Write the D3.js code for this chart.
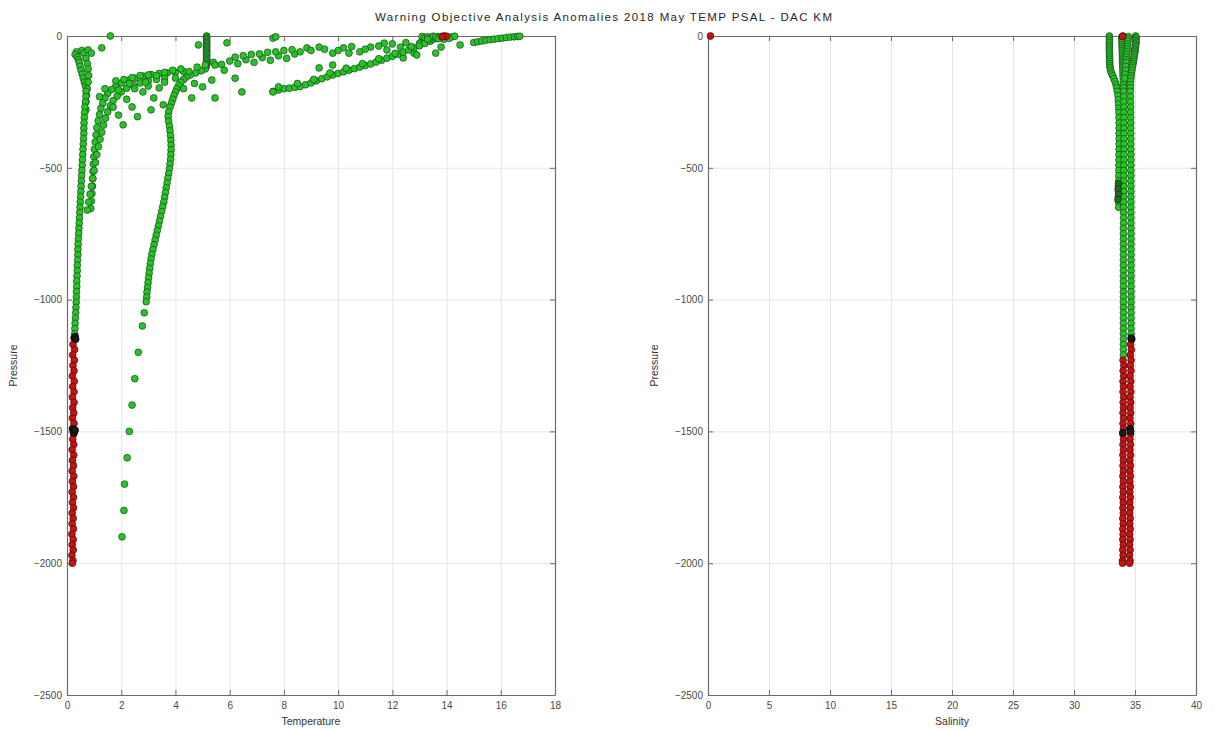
<!DOCTYPE html>
<html><head><meta charset="utf-8">
<script src="https://cdn.jsdelivr.net/npm/d3@7"></script>
<style>body{margin:0;background:#fff}svg{display:block}text{font-family:"Liberation Sans",Arial,sans-serif}</style>
</head><body><svg id="c" width="1215" height="731"></svg>
<script>
// ---------- tick labels / ranges ----------
const titleText = "Warning Objective Analysis Anomalies 2018 May TEMP PSAL - DAC KM";
const presTicks = [-2500,-2000,-1500,-1000,-500,0];
const tempTicks = [0,2,4,6,8,10,12,14,16,18];
const psalTicks = [0,5,10,15,20,25,30,35,40];

// ---------- shared pressure grids ----------
const presMid = [-210,-230,-250,-270,-290,-310,-330,-350,-370,-390,-410,-430,-450,-470,-490,-510,-530,-550,-570,-590,-610,-630,-650,-670,-690,-710,-730,-750,-770,-790,-810,-830,-850,-870,-890,-910,-930,-950,-970,-990,-1010,-1030,-1050,-1070,-1090,-1110,-1130];
const presBadA = [-1150,-1170,-1190,-1210,-1230,-1250,-1270,-1290,-1310,-1330,-1350,-1370,-1390,-1410,-1430,-1450,-1470,-1490,-1510,-1530,-1550,-1570,-1590,-1610,-1630,-1650,-1670,-1690,-1710,-1730,-1750,-1770,-1790,-1810,-1830,-1850,-1870,-1890,-1910,-1930,-1950,-1970,-1990,-2000];
const presBadB = [-1230,-1250,-1270,-1290,-1310,-1330,-1350,-1370,-1390,-1410,-1430,-1450,-1470,-1490,-1510,-1530,-1550,-1570,-1590,-1610,-1630,-1650,-1670,-1690,-1710,-1730,-1750,-1770,-1790,-1810,-1830,-1850,-1870,-1890,-1910,-1930,-1950,-1970,-1990,-2000];

// ---------- temperature values ----------
const tempColdTop = [[0.35,-60],[0.30,-70],[0.38,-80],[0.42,-90],[0.45,-100],[0.48,-115],[0.52,-130],[0.56,-145],[0.60,-160],[0.64,-175],[0.68,-190],[0.55,-55],[0.62,-65],[0.70,-85],[0.75,-105],[0.78,-125],[0.80,-150],[0.78,-175],[0.75,-200],[0.72,-225],[0.70,-250],[0.70,-280]];
const tempColdMid = [0.70,0.70,0.68,0.66,0.65,0.64,0.63,0.62,0.62,0.61,0.60,0.59,0.58,0.57,0.56,0.55,0.54,0.53,0.52,0.51,0.50,0.49,0.48,0.47,0.46,0.45,0.44,0.43,0.42,0.41,0.40,0.40,0.39,0.38,0.38,0.37,0.36,0.36,0.35,0.35,0.34,0.33,0.32,0.31,0.30,0.29,0.28];
const tempColdBad = [0.30,0.22,0.28,0.21,0.27,0.22,0.26,0.20,0.27,0.21,0.26,0.20,0.26,0.21,0.25,0.20,0.26,0.20,0.25,0.21,0.25,0.19,0.25,0.20,0.24,0.19,0.25,0.20,0.24,0.19,0.24,0.20,0.24,0.19,0.23,0.19,0.24,0.18,0.23,0.19,0.23,0.18,0.22,0.20];
const tempCurveA = [[4.3,-135],[4.0,-138],[3.7,-140],[3.4,-142],[3.1,-146],[2.8,-152],[2.5,-160],[2.25,-168],[2.0,-178],[1.8,-190],[1.65,-203],[1.5,-218],[1.4,-235],[1.32,-255],[1.25,-275],[1.2,-298],[1.15,-322],[1.1,-348],[1.07,-375],[1.04,-402],[1.01,-430],[0.99,-458],[0.97,-486],[0.96,-514],[0.95,-542],[0.94,-570],[0.92,-598],[0.9,-626],[0.88,-654]];
const tempCurveB = [[3.6,-160],[3.3,-165],[3.0,-170],[2.7,-178],[2.45,-188],[2.2,-198],[2.0,-212],[1.85,-228],[1.7,-245],[1.6,-265],[1.5,-288],[1.42,-312],[1.35,-338],[1.28,-365],[1.22,-392],[1.16,-420],[1.1,-450],[1.05,-480],[1.0,-510],[0.95,-540],[0.9,-570],[0.85,-600],[0.8,-630],[0.75,-660]];
const tempWarmDeep = [[5.15,0],[5.15,-5],[5.15,-10],[5.15,-15],[5.15,-20],[5.15,-25],[5.15,-30],[5.15,-35],[5.15,-40],[5.15,-45],[5.15,-50],[5.15,-55],[5.15,-60],[5.15,-65],[5.15,-70],[5.15,-75],[5.15,-80],[5.15,-85],[5.15,-90],[5.15,-95],[5.15,-100],[5.15,-105],[5.14,-110],[5.13,-115],[5.12,-120],[5.1,-125],[4.95,-132],[4.75,-140],[4.55,-148],[4.4,-156],[4.3,-165],[4.2,-175],[4.12,-188],[4.05,-200],[4.0,-212],[3.95,-225],[3.9,-240],[3.85,-255],[3.8,-270],[3.75,-288],[3.73,-306],[3.75,-324],[3.78,-342],[3.8,-360],[3.82,-378],[3.83,-396],[3.84,-414],[3.84,-432],[3.83,-450],[3.82,-468],[3.8,-486],[3.78,-504],[3.75,-522],[3.72,-540],[3.69,-558],[3.66,-576],[3.63,-594],[3.6,-612],[3.57,-630],[3.53,-648],[3.49,-666],[3.45,-684],[3.41,-702],[3.37,-720],[3.33,-738],[3.29,-756],[3.25,-774],[3.21,-792],[3.17,-810],[3.13,-828],[3.1,-846],[3.07,-864],[3.05,-882],[3.03,-900],[3.01,-918],[2.99,-936],[2.97,-954],[2.95,-972],[2.94,-990],[2.92,-1008],[2.85,-1050],[2.78,-1100],[2.63,-1200],[2.5,-1300],[2.4,-1400],[2.3,-1500],[2.22,-1600],[2.12,-1700],[2.1,-1800],[2.03,-1900]];
const tempBandLower = [[7.6,-210],[7.8,-205],[8.0,-200],[8.2,-198],[8.4,-195],[8.6,-192],[8.8,-185],[9.0,-178],[9.2,-170],[9.4,-162],[9.6,-155],[9.8,-148],[10.0,-142],[10.2,-136],[10.4,-130],[10.6,-124],[10.8,-118],[11.0,-112],[11.2,-106],[11.4,-99],[11.6,-92],[11.8,-84],[12.0,-77],[12.2,-69],[12.4,-61],[12.6,-53],[12.8,-45],[13.0,-37],[13.2,-28],[13.4,-20],[13.5,-13],[13.6,-7],[13.7,-2],[8.5,-180],[9.1,-165],[9.7,-140],[10.3,-122],[10.9,-105],[11.5,-86],[12.1,-66],[12.7,-40]];
const tempBandUpper = [[1.8,-170],[2.1,-165],[2.4,-158],[2.7,-150],[3.0,-148],[3.3,-150],[3.6,-138],[3.9,-130],[4.2,-125],[4.5,-135],[4.8,-118],[5.1,-110],[5.4,-100],[5.7,-108],[6.0,-95],[6.3,-105],[6.6,-90],[6.9,-100],[7.2,-82],[7.5,-92],[7.8,-75],[8.1,-85],[8.4,-68],[8.85,-45],[9.3,-42],[9.3,-121],[9.8,-65],[9.8,-110],[10.2,-45],[10.4,-65],[10.8,-60],[11.2,-42],[11.7,-27],[11.8,-53],[12.3,-42],[12.4,-83],[12.8,-65],[12.9,-72],[13.1,-15],[13.6,-65],[13.8,-42],[14.5,-34],[6.2,-80],[6.5,-75],[6.8,-70],[7.1,-68],[7.4,-62],[7.7,-60],[8.0,-55],[8.3,-52],[8.6,-60],[9.0,-55],[9.5,-50],[10.0,-55],[10.5,-40],[11.0,-50],[11.5,-38],[12.0,-30],[12.5,-25],[13.0,-28],[13.3,-10]];
const tempScatter = [[1.6,0],[1.28,-45],[0.78,-53],[0.9,-65],[4.85,-34],[5.9,-26],[7.6,-8],[7.7,-3],[5.46,-110],[5.34,-167],[5.46,-235],[5.0,-193],[4.6,-235],[6.45,-212],[7.6,-212],[7.8,-193],[2.6,-306],[3.1,-280],[2.07,-337],[2.4,-269],[2.8,-212],[3.2,-235],[3.4,-197],[3.55,-261],[1.9,-300],[2.2,-240],[2.5,-200],[1.7,-270],[3.0,-190],[6.2,-160],[5.8,-130],[4.3,-200],[4.7,-180],[2.3,-180],[2.9,-175],[3.6,-175],[4.0,-160],[1.9,-205],[1.4,-200],[1.2,-230]];
const tempSurfWarm = [[15.0,-25],[15.15,-22],[15.3,-19],[15.45,-16],[15.6,-14],[15.75,-12],[15.9,-10],[16.05,-8],[16.2,-6],[16.35,-4],[16.5,-3],[16.62,-2],[16.7,-1]];
const tempSurfCluster = [[13.1,-2],[13.2,-6],[13.3,-3],[13.4,-8],[13.5,-1],[13.6,-4],[13.7,-10],[13.8,-2],[14.0,-6],[14.2,-3],[14.3,-1],[13.9,-12],[13.3,-12],[14.1,-9]];
const tempSurfBad = [[13.9,0],[14.0,-1],[13.85,-3]];
const tempDark = [[0.3,-1140],[0.26,-1145],[0.32,-1150],[0.22,-1490],[0.28,-1500],[0.24,-1505],[0.3,-1495]];

// ---------- salinity values ----------
const psalLeft = [[32.9,0],[32.9,-8],[32.9,-16],[32.9,-24],[32.9,-32],[32.9,-40],[32.9,-48],[32.9,-56],[32.91,-64],[32.91,-72],[32.91,-80],[32.92,-88],[32.92,-96],[32.93,-104],[32.94,-112],[32.96,-120],[32.99,-128],[33.04,-136],[33.1,-144],[33.18,-152],[33.27,-162],[33.36,-172],[33.44,-184],[33.5,-196],[33.55,-210],[33.6,-226],[33.63,-242],[33.65,-258],[33.67,-274],[33.68,-290],[33.69,-310],[33.7,-330],[33.7,-350],[33.7,-370],[33.7,-390],[33.7,-410],[33.7,-430],[33.69,-450],[33.69,-470],[33.68,-490],[33.68,-510],[33.67,-530],[33.66,-550],[33.65,-570],[33.64,-590],[33.64,-610],[33.65,-630],[33.66,-650]];
const psalMidTop = [[33.92,-4],[33.93,-8],[33.93,-16],[33.94,-24],[33.94,-32],[33.95,-40],[33.95,-48],[33.96,-56],[33.96,-64],[33.97,-72],[33.97,-80],[33.98,-88],[33.98,-96],[33.99,-104],[34.0,-112],[34.0,-120],[34.01,-130],[34.02,-140],[34.02,-150],[34.03,-160],[34.04,-172],[34.05,-184],[34.06,-196]];
const psalMidMid = [34.07,34.08,34.08,34.09,34.09,34.1,34.1,34.1,34.1,34.1,34.1,34.1,34.1,34.1,34.09,34.09,34.09,34.08,34.08,34.08,34.07,34.07,34.07,34.06,34.06,34.06,34.05,34.05,34.05,34.05,34.05,34.05,34.05,34.05,34.05,34.05,34.05,34.05,34.05,34.05,34.05,34.05,34.05,34.05,34.05,34.05,34.05];
const psalMidLow = [[34.05,-1150],[34.05,-1170],[34.05,-1190],[34.05,-1210]];
const psalMidBad = [34.02,34.08,34.03,34.07,34.02,34.06,34.02,34.07,34.03,34.06,34.02,34.06,34.02,34.05,34.01,34.06,34.02,34.05,34.01,34.05,34.02,34.05,34.01,34.05,34.01,34.04,34.0,34.04,34.01,34.04,34.0,34.04,34.0,34.03,34.0,34.04,34.0,34.03,33.98,33.98];
const psalRightTop = [[35.05,0],[35.1,-6],[35.08,-12],[35.05,-18],[35.1,-24],[35.06,-30],[35.02,-36],[35.05,-42],[35.0,-48],[34.98,-54],[35.0,-60],[34.96,-66],[34.94,-72],[34.92,-80],[34.9,-88],[34.87,-96],[34.84,-104],[34.8,-112],[34.77,-120],[34.74,-130],[34.71,-140],[34.68,-150],[34.66,-160],[34.64,-172],[34.63,-184],[34.62,-196]];
const psalRight2 = [[34.45,-2],[34.44,-10],[34.42,-20],[34.4,-30],[34.38,-40],[34.36,-50],[34.34,-60],[34.32,-70],[34.3,-80],[34.28,-90],[34.26,-100],[34.24,-115],[34.22,-130],[34.2,-145],[34.18,-160]];
const psalRightMid = [34.62,34.63,34.63,34.64,34.64,34.65,34.65,34.65,34.66,34.66,34.66,34.66,34.67,34.67,34.67,34.67,34.67,34.67,34.67,34.67,34.67,34.67,34.67,34.67,34.67,34.67,34.68,34.68,34.68,34.68,34.68,34.68,34.68,34.68,34.68,34.68,34.68,34.68,34.68,34.68,34.68,34.68,34.68,34.68,34.68,34.68,34.68];
const psalRightBad = [34.72,34.64,34.7,34.62,34.68,34.62,34.67,34.6,34.66,34.6,34.66,34.6,34.65,34.6,34.65,34.59,34.65,34.6,34.64,34.59,34.64,34.59,34.64,34.58,34.63,34.58,34.63,34.58,34.62,34.58,34.62,34.57,34.62,34.57,34.61,34.57,34.61,34.56,34.6,34.56,34.6,34.55,34.6,34.56];
const psalSurfBad = [[34.0,0],[33.97,-2],[0.2,0]];
const psalDark = [[34.68,-1145],[34.72,-1150],[34.6,-1490],[34.65,-1500],[34.0,-1505]];
const psalDarkGreen = [[33.65,-560],[33.62,-580],[33.66,-600],[33.6,-620]];

// ---------- drawing ----------
const svg = d3.select("#c");
svg.append("rect").attr("width",1215).attr("height",731).attr("fill","#fff");
const yTop = 36, yBot = 695;
const y = d3.scaleLinear().domain([-2500,0]).range([yBot,yTop]);
const GREEN = "#27c427", GREEN_E = "#1d431d", RED = "#c91212", RED_E = "#3d0b0b", DARK = "#1b1b1b", DKGREEN = "#1f6a1f";
const zipPairs = (p, v) => p.map((pp,i)=>[v[i], pp]);
const presFmt = d => d === 0 ? "0" : "\u2212" + Math.abs(d);

svg.append("text").attr("x",603.5).attr("y",21).attr("text-anchor","middle")
  .attr("font-family","DejaVu Sans, sans-serif").attr("font-size",11.5)
  .attr("textLength",457).attr("lengthAdjust","spacing")
  .attr("fill","#262626").text(titleText);

function panel(x0, x1, xDomain, xTicks, xLabel, layers){
  const x = d3.scaleLinear().domain(xDomain).range([x0,x1]);
  const g = svg.append("g");
  const grid = g.append("g").attr("stroke","#e6e6e6").attr("stroke-width",1);
  grid.selectAll("line.v").data(xTicks.slice(1,-1)).join("line")
    .attr("x1",d=>x(d)+0.5).attr("x2",d=>x(d)+0.5).attr("y1",yTop).attr("y2",yBot);
  grid.selectAll("line.h").data(presTicks.slice(1,-1)).join("line")
    .attr("y1",d=>y(d)+0.5).attr("y2",d=>y(d)+0.5).attr("x1",x0).attr("x2",x1);
  const axB = g.append("g").attr("transform",`translate(0,${yBot})`)
    .call(d3.axisBottom(x).tickValues(xTicks).tickSizeInner(-5).tickSizeOuter(0).tickPadding(7));
  const axL = g.append("g").attr("transform",`translate(${x0},0)`)
    .call(d3.axisLeft(y).tickValues(presTicks).tickSizeInner(-5).tickSizeOuter(0).tickPadding(5).tickFormat(presFmt));
  const axT = g.append("g").attr("transform",`translate(0,${yTop})`)
    .call(d3.axisTop(x).tickValues(xTicks).tickSizeInner(-5).tickSizeOuter(0).tickFormat(""));
  const axR = g.append("g").attr("transform",`translate(${x1},0)`)
    .call(d3.axisRight(y).tickValues(presTicks).tickSizeInner(-5).tickSizeOuter(0).tickFormat(""));
  [axB,axL,axT,axR].forEach(a=>{
    a.selectAll("path.domain").attr("stroke","#6b6b6b").attr("stroke-width",1.2);
    a.selectAll(".tick line").attr("stroke","#6b6b6b");
    a.selectAll("text").attr("font-size",10).attr("fill","#4a4a4a").attr("font-family","Liberation Sans, Arial, sans-serif");
  });
  g.append("text").attr("x",(x0+x1)/2).attr("y",725).attr("text-anchor","middle")
    .attr("font-family","DejaVu Sans, sans-serif").attr("font-size",10.5).attr("fill","#333").text(xLabel);
  g.append("text").attr("transform",`translate(${x0-50},${(yTop+yBot)/2}) rotate(-90)`)
    .attr("font-family","DejaVu Sans, sans-serif")
    .attr("text-anchor","middle").attr("font-size",10.5).attr("fill","#333").text("Pressure");
  layers.forEach(L=>{
    g.append("g").selectAll("circle").data(L.data).join("circle")
      .attr("cx",d=>x(d[0])).attr("cy",d=>y(d[1])).attr("r",3.4)
      .attr("fill",L.fill).attr("stroke",L.stroke).attr("stroke-width",0.7);
  });
}

panel(67, 555, [0,18], tempTicks, "Temperature", [
  {data: tempWarmDeep, fill: GREEN, stroke: GREEN_E},
  {data: tempCurveA, fill: GREEN, stroke: GREEN_E},
  {data: tempCurveB, fill: GREEN, stroke: GREEN_E},
  {data: tempColdTop, fill: GREEN, stroke: GREEN_E},
  {data: zipPairs(presMid, tempColdMid), fill: GREEN, stroke: GREEN_E},
  {data: tempBandUpper, fill: GREEN, stroke: GREEN_E},
  {data: tempBandLower, fill: GREEN, stroke: GREEN_E},
  {data: tempScatter, fill: GREEN, stroke: GREEN_E},
  {data: tempSurfWarm, fill: GREEN, stroke: GREEN_E},
  {data: tempSurfCluster, fill: GREEN, stroke: GREEN_E},
  {data: zipPairs(presBadA, tempColdBad), fill: RED, stroke: RED_E},
  {data: tempSurfBad, fill: RED, stroke: RED_E},
  {data: tempDark, fill: DARK, stroke: "#000"}
]);

panel(708, 1196, [0,40], psalTicks, "Salinity", [
  {data: psalLeft, fill: GREEN, stroke: GREEN_E},
  {data: psalMidTop, fill: GREEN, stroke: GREEN_E},
  {data: psalRight2, fill: GREEN, stroke: GREEN_E},
  {data: psalRightTop, fill: GREEN, stroke: GREEN_E},
  {data: zipPairs(presMid, psalMidMid), fill: GREEN, stroke: GREEN_E},
  {data: psalMidLow, fill: GREEN, stroke: GREEN_E},
  {data: zipPairs(presMid, psalRightMid), fill: GREEN, stroke: GREEN_E},
  {data: psalDarkGreen, fill: DKGREEN, stroke: "#0e2a0e"},
  {data: zipPairs(presBadB, psalMidBad), fill: RED, stroke: RED_E},
  {data: zipPairs(presBadA, psalRightBad), fill: RED, stroke: RED_E},
  {data: psalSurfBad, fill: RED, stroke: RED_E},
  {data: psalDark, fill: DARK, stroke: "#000"}
]);
</script></body></html>
